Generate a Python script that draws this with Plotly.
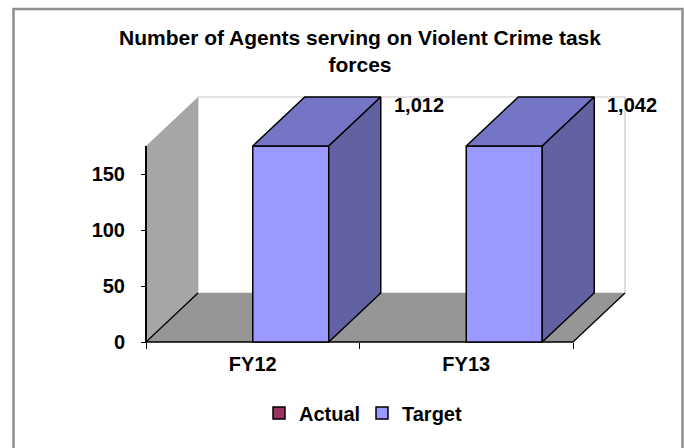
import plotly.graph_objects as go

# ---- data ----
categories = ["FY12", "FY13"]
actual = [None, None]
target = [1012, 1042]
y_ticks = [0, 50, 100, 150]
axis_max = 175

# ---- geometry / layout constants ----
W, H = 684, 448
PX_X = 213.5          # px per category
PX_Y = 1.12           # px per value unit
DX = 52 / PX_X        # 3D depth, x (data units)
DY = 49 / PX_Y        # 3D depth, y (data units)
PAD = 3
PADX = PAD / PX_X
PADY = PAD / PX_Y
BAR_W = 0.356

n = len(categories)
xpos = list(range(n))
x_lo, x_hi = -0.5, n - 0.5
xr = [x_lo - PADX, x_hi + DX + PADX]
yr = [-PADY, axis_max + DY + PADY]
plot_w = (xr[1] - xr[0]) * PX_X
plot_h = (yr[1] - yr[0]) * PX_Y
m_left = 146 - PAD
m_bottom = H - 342 - PAD
m_top = H - m_bottom - plot_h
m_right = W - m_left - plot_w

FRONT = "#9999FF"
TOP = "#7575C5"
SIDE = "#6262A3"
ACTUAL = "#993366"

fig = go.Figure()

fig.add_trace(go.Bar(
    x=xpos, y=actual, name="Actual", width=BAR_W, offset=-BAR_W,
    marker=dict(color=ACTUAL, line=dict(color="black", width=1.5)),
    hoverinfo="skip"))

clipped = [min(v, axis_max) if v is not None else None for v in target]
fig.add_trace(go.Bar(
    x=xpos, y=clipped, name="Target", width=BAR_W, offset=0,
    marker=dict(color=FRONT, line=dict(color="black", width=1.5)),
    hoverinfo="skip"))

# 3D faces of target bars, derived from bar data
for xc, v in zip(xpos, clipped):
    if v is None:
        continue
    x0, x1 = xc, xc + BAR_W
    fig.add_trace(go.Scatter(
        x=[x0, x1, x1 + DX, x0 + DX, x0], y=[v, v, v + DY, v + DY, v],
        fill="toself", fillcolor=TOP, mode="lines",
        line=dict(color="black", width=1.5), showlegend=False, hoverinfo="skip"))
    fig.add_trace(go.Scatter(
        x=[x1, x1, x1 + DX, x1 + DX, x1], y=[0, v, v + DY, DY, 0],
        fill="toself", fillcolor=SIDE, mode="lines",
        line=dict(color="black", width=1.5), showlegend=False, hoverinfo="skip"))

shapes = []
shapes.append(dict(type="rect", xref="x", yref="y", layer="below",
                   x0=x_lo + DX, x1=x_hi + DX, y0=DY, y1=axis_max + DY,
                   fillcolor="white", line=dict(color="#C8C8C8", width=1.2)))
shapes.append(dict(type="path", xref="x", yref="y", layer="below",
                   path=f"M{x_lo},0 L{x_lo},{axis_max} L{x_lo + DX},{axis_max + DY} L{x_lo + DX},{DY} Z",
                   fillcolor="#A6A6A6", line=dict(width=0)))
shapes.append(dict(type="path", xref="x", yref="y", layer="below",
                   path=f"M{x_lo},0 L{x_hi},0 L{x_hi + DX},{DY} L{x_lo + DX},{DY} Z",
                   fillcolor="#969696", line=dict(width=0)))
for (ax, ay, bx, by) in [(x_lo, 0, x_lo + DX, DY), (x_hi, 0, x_hi + DX, DY)]:
    shapes.append(dict(type="line", xref="x", yref="y", layer="below",
                       x0=ax, y0=ay, x1=bx, y1=by, line=dict(color="black", width=1.3)))
shapes.append(dict(type="line", xref="x", yref="y", layer="below",
                   x0=x_lo, y0=0, x1=x_lo, y1=axis_max, line=dict(color="black", width=2)))
shapes.append(dict(type="line", xref="x", yref="y", layer="below",
                   x0=x_lo, y0=0, x1=x_hi, y1=0, line=dict(color="black", width=1.5)))


def px_to_paper_x(px):
    return (px - m_left) / plot_w


def px_to_paper_y(py):
    return (H - m_bottom - py) / plot_h


shapes.append(dict(type="rect", xref="paper", yref="paper", layer="above",
                   x0=px_to_paper_x(13.5), x1=px_to_paper_x(682.5),
                   y0=px_to_paper_y(470), y1=px_to_paper_y(9),
                   fillcolor="rgba(0,0,0,0)", line=dict(color="#8E8E8E", width=2.5)))

annotations = []
for xc, v in zip(xpos, target):
    annotations.append(dict(
        x=xc + BAR_W + DX, y=axis_max + DY, xref="x", yref="y",
        text=f"{v:,}", showarrow=False, xanchor="left", yanchor="middle",
        xshift=11, yshift=-8, font=dict(size=20, color="black", weight="bold")))

fig.update_layout(
    width=W, height=H,
    margin=dict(l=m_left, r=m_right, t=m_top, b=m_bottom, pad=0),
    paper_bgcolor="white", plot_bgcolor="rgba(0,0,0,0)",
    font=dict(family="Liberation Sans, Arial, sans-serif", size=20, color="black", weight="bold"),
    title=dict(text="Number of Agents serving on Violent Crime task<br>forces",
               x=360 / W, xanchor="center", y=1 - 45 / H, yanchor="top",
               yref="container",
               font=dict(size=21, weight="bold", color="black")),
    barmode="overlay",
    showlegend=True,
    legend=dict(orientation="h", xref="container", yref="container",
                x=362 / W, xanchor="center", y=1 - 413 / H, yanchor="middle",
                font=dict(size=20, weight="bold"), bgcolor="rgba(0,0,0,0)",
                entrywidth=58, itemwidth=30),
    xaxis=dict(range=xr, tickmode="array", tickvals=xpos, ticktext=categories,
               ticks="", showline=False, zeroline=False, showgrid=False,
               anchor="free", position=PAD / plot_h, ticklabelstandoff=8,
               minor=dict(tickmode="array", tickvals=[x_lo + i for i in range(n + 1)],
                          ticks="outside", ticklen=6, tickcolor="black", tickwidth=1.3,
                          showgrid=False),
               fixedrange=True),
    yaxis=dict(range=yr, tickmode="array", tickvals=y_ticks,
               ticks="outside", ticklen=5, tickcolor="black", tickwidth=1.3,
               showline=False, zeroline=False, showgrid=False,
               anchor="free", position=PAD / plot_w, ticklabelstandoff=12,
               fixedrange=True),
    shapes=shapes,
    annotations=annotations,
)

fig.write_html("out.html", config={"displayModeBar": False},
               post_script="document.body.style.margin='0';document.body.style.overflow='hidden';")
